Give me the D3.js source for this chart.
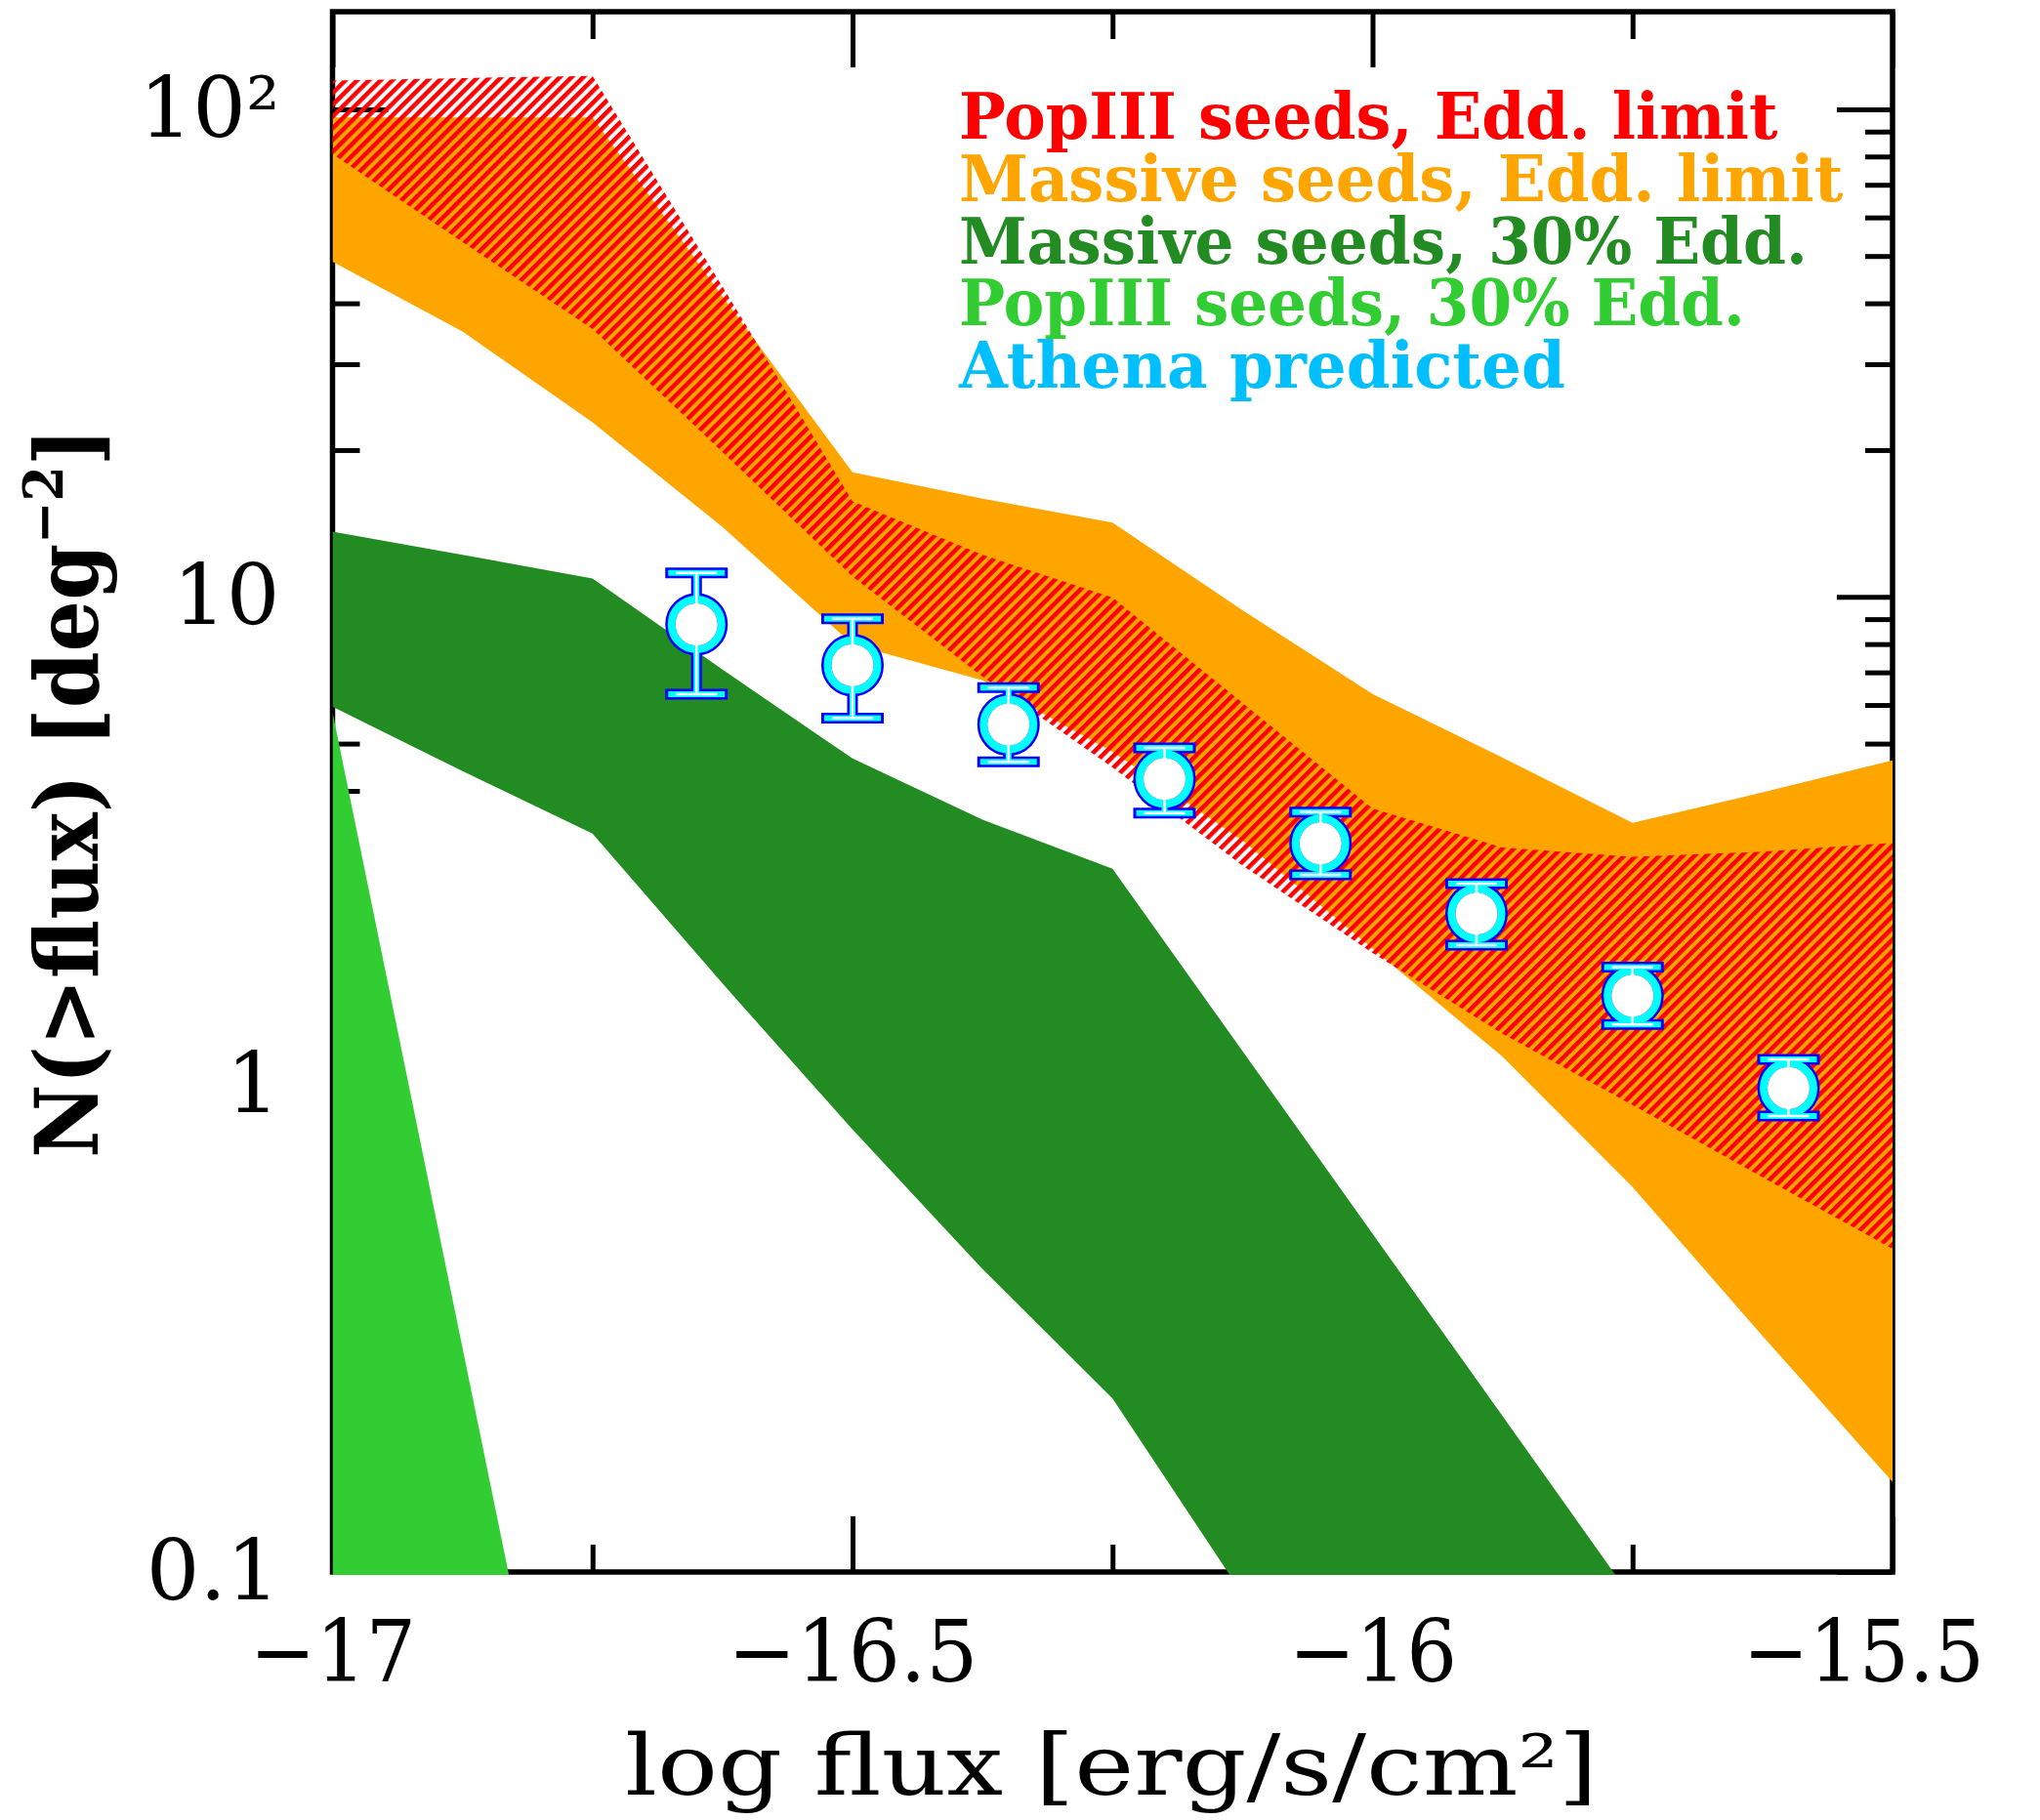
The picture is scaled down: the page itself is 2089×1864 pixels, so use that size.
<!DOCTYPE html>
<html>
<head>
<meta charset="utf-8">
<script src="https://cdn.jsdelivr.net/npm/d3@7"></script>
<style>
  body { margin: 0; background: #fff; }
  svg { display: block; }
</style>
</head>
<body>
<svg id="chart"></svg>
<script>
var fluxGrid = [-17, -16.875, -16.75, -16.625, -16.5, -16.375, -16.25, -16.125, -16, -15.875, -15.75, -15.625, -15.5];

// Massive seeds, Edd. limit (orange band)
var massEddHi = [96.2, 96.2, 96.2, 41.3, 18.0, 15.9, 14.2, 9.39, 6.32, 4.68, 3.44, 3.97, 4.62];
var massEddLo = [48.7, 35.0, 22.8, 13.9, 7.99, 6.74, 4.81, 3.16, 1.90, 1.14, 0.616, 0.305, 0.153];

// PopIII seeds, Edd. limit (red hatched band)
var popEddHi = [114.5, 115.9, 117.0, 43.3, 15.7, 12.2, 9.97, 6.06, 3.68, 3.06, 2.93, 3.00, 3.13];
var popEddLo = [80.9, 53.4, 35.4, 19.8, 11.0, 6.86, 4.47, 2.81, 1.86, 1.27, 0.907, 0.645, 0.460];

// Massive seeds, 30% Edd. (dark green) - drops out of the plot after -15.75
var massSubHi = [13.6, 12.2, 10.9, 7.09, 4.66, 3.49, 2.77, 1.17, 0.494, 0.209, 0.088];
var massSubLo = [5.95, 4.39, 3.27, 1.61, 0.808, 0.418, 0.227, 0.090, 0.035, 0.014, 0.0055];

// PopIII seeds, 30% Edd. (light green)
var popSubHi = [5.8, 0.288, 0.0143];
var popSubLo = [0.01, 0.01, 0.01];

// Athena predicted counts with errors
var athenaFlux = [-16.65, -16.5, -16.35, -16.2, -16.05, -15.9, -15.75, -15.6];
var athenaN  = [8.78, 7.24, 5.47, 4.23, 3.12, 2.24, 1.52, 0.983];
var athenaHi = [11.2, 9.01, 6.51, 4.90, 3.62, 2.58, 1.74, 1.125];
var athenaLo = [6.31, 5.64, 4.59, 3.60, 2.69, 1.93, 1.327, 0.861];

var xMajor = [-17, -16.5, -16, -15.5];
var xMajorLabels = ["\u221217", "\u221216.5", "\u221216", "\u221215.5"];
var xMinor = [-16.75, -16.25, -15.75];
var yMajor = [0.1, 1, 10, 100];
var yMajorLabels = ["0.1", "1", "10", "10\u00b2"];
var yMinor = [0.2, 0.3, 0.4, 0.5, 0.6, 0.7, 0.8, 0.9, 2, 3, 4, 5, 6, 7, 8, 9, 20, 30, 40, 50, 60, 70, 80, 90];

var legendLabels = ["PopIII seeds, Edd. limit", "Massive seeds, Edd. limit", "Massive seeds, 30% Edd.",
  "PopIII seeds, 30% Edd.", "Athena predicted"];
var legendColors = ["#ff0000", "#ffa500", "#228b22", "#32cd32", "#00bfff"];

// layout
var W = 2089, H = 1864;
var serifFont = "'DejaVu Serif', 'Liberation Serif', serif";
var xLabelWidths = [170, 256, 172, 247];
var xLabelShift = [0, 0, 0, -30];
var legendWidths = [839, 906, 869, 805, 622];

var svg = d3.select('#chart').attr('width', W).attr('height', H);

var x = d3.scaleLinear().domain([-17, -15.5]).range([340.5, 1938]);
var y = d3.scaleLog().domain([0.1, 158.5]).range([1610, 12]);

var x0 = x.range()[0], x1 = x.range()[1];
var yb = y.range()[0], yt = y.range()[1];

var defs = svg.append('defs');
defs.append('clipPath').attr('id', 'plotClip').append('rect')
  .attr('x', x0).attr('y', yt)
  .attr('width', x1 - x0 + 2.5)
  .attr('height', yb - yt + 3);

var hatch = defs.append('pattern').attr('id', 'hatch')
  .attr('patternUnits', 'userSpaceOnUse')
  .attr('width', 8.5).attr('height', 8.5)
  .attr('patternTransform', 'rotate(45)');
hatch.append('rect').attr('width', 4.5).attr('height', 8.5).attr('fill', '#ff0000');

function fitWidth(sel, target, shift) {
  var w = sel.node().getBBox().width;
  sel.attr('transform', 'translate(' + (shift || 0) + ',0) scale(' + (target / w) + ',1)');
}

// frame
svg.append('rect')
  .attr('x', x0).attr('y', yt)
  .attr('width', x1 - x0).attr('height', yb - yt)
  .attr('fill', 'none').attr('stroke', '#000').attr('stroke-width', 5.5);

function drawAxis(axis, tx, ty) {
  var g = svg.append('g').attr('transform', 'translate(' + tx + ',' + ty + ')').call(axis);
  g.select('.domain').remove();
  g.selectAll('.tick line').attr('stroke', '#000').attr('stroke-width', 5);
  return g;
}

// bottom / top
var gxb = drawAxis(d3.axisBottom(x).tickValues(xMajor).tickSize(-57).tickPadding(50)
  .tickFormat(function(d, i) { return xMajorLabels[i]; }), 0, yb);
drawAxis(d3.axisBottom(x).tickValues(xMinor).tickSize(-28).tickFormat(''), 0, yb);
drawAxis(d3.axisTop(x).tickValues(xMajor).tickSize(-57).tickFormat(''), 0, yt);
drawAxis(d3.axisTop(x).tickValues(xMinor).tickSize(-28).tickFormat(''), 0, yt);

gxb.selectAll('.tick text')
  .attr('font-family', serifFont).attr('font-size', 88).attr('fill', '#000')
  .each(function(d, i) { fitWidth(d3.select(this), xLabelWidths[i], xLabelShift[i]); });

// left / right
var gyl = drawAxis(d3.axisLeft(y).tickValues(yMajor).tickSize(-57).tickPadding(54)
  .tickFormat(function(d, i) { return yMajorLabels[i]; }), x0, 0);
drawAxis(d3.axisLeft(y).tickValues(yMinor).tickSize(-28).tickFormat(''), x0, 0);
drawAxis(d3.axisRight(y).tickValues(yMajor).tickSize(-57).tickFormat(''), x1, 0);
drawAxis(d3.axisRight(y).tickValues(yMinor).tickSize(-28).tickFormat(''), x1, 0);

gyl.selectAll('.tick text')
  .attr('font-family', serifFont).attr('font-size', 86).attr('fill', '#000');

// bands
var plot = svg.append('g').attr('clip-path', 'url(#plotClip)');

function band(hi, lo) {
  var rows = hi.map(function(v, i) { return {f: fluxGrid[i], hi: v, lo: lo[i]}; });
  return d3.area()
    .x(function(d) { return x(d.f); })
    .y0(function(d) { return y(d.lo); })
    .y1(function(d) { return y(d.hi); })(rows);
}

plot.append('path').attr('d', band(massEddHi, massEddLo)).attr('fill', '#ffa500');
plot.append('path').attr('d', band(popEddHi, popEddLo)).attr('fill', 'url(#hatch)');
plot.append('path').attr('d', band(massSubHi, massSubLo)).attr('fill', '#228b22');
plot.append('path').attr('d', band(popSubHi, popSubLo)).attr('fill', '#32cd32');

// Athena points: blue outline, cyan body, white core
var pts = athenaFlux.map(function(f, i) {
  return {f: f, n: athenaN[i], hi: athenaHi[i], lo: athenaLo[i]};
});

var layers = [
  {color: '#0000ff', bar: 11, cap: 32, capW: 11, ringR: 26.5, ringW: 11},
  {color: '#00ffff', bar: 6, cap: 29, capW: 6, ringR: 25.5, ringW: 8},
  {color: '#ffffff', bar: 2.5, cap: 21, capW: 2.5, ringR: 10.75, ringW: 21.5}
];

var marks = svg.append('g');
pts.forEach(function(p) {
  var cx = x(p.f), cy = y(p.n), ty = y(p.hi), by = y(p.lo);
  layers.forEach(function(L) {
    marks.append('line').attr('x1', cx).attr('x2', cx).attr('y1', ty).attr('y2', by)
      .attr('stroke', L.color).attr('stroke-width', L.bar);
    [ty, by].forEach(function(yy) {
      marks.append('line').attr('x1', cx - L.cap).attr('x2', cx + L.cap)
        .attr('y1', yy).attr('y2', yy)
        .attr('stroke', L.color).attr('stroke-width', L.capW);
    });
    marks.append('circle').attr('cx', cx).attr('cy', cy).attr('r', L.ringR)
      .attr('fill', 'none').attr('stroke', L.color).attr('stroke-width', L.ringW);
  });
});

// legend
legendLabels.forEach(function(lab, i) {
  var g = svg.append('g').attr('transform', 'translate(982,' + (141.7 + 63.9 * i) + ')');
  var t = g.append('text').attr('x', 0).attr('y', 0)
    .attr('font-family', serifFont).attr('font-size', 66).attr('font-weight', 'bold')
    .attr('fill', legendColors[i]).text(lab);
  fitWidth(t, legendWidths[i]);
});

// axis titles
var xt = svg.append('g').attr('transform', 'translate(1138,1838)')
  .append('text').attr('text-anchor', 'middle')
  .attr('font-family', serifFont).attr('font-size', 86).attr('fill', '#000')
  .text('log flux [erg/s/cm\u00b2]');
fitWidth(xt, 996);

var ytg = svg.append('g').attr('transform', 'translate(100,812) rotate(-90)');
var ytt = ytg.append('text').attr('text-anchor', 'middle')
  .attr('font-family', serifFont).attr('font-size', 89).attr('font-weight', 'bold').attr('fill', '#000');
ytt.append('tspan').text('N(>flux) [deg');
ytt.append('tspan').attr('font-size', 56).attr('dy', -36).text('\u22122');
ytt.append('tspan').attr('dy', 36).text(']');
fitWidth(ytt, 748);
</script>
</body>
</html>
